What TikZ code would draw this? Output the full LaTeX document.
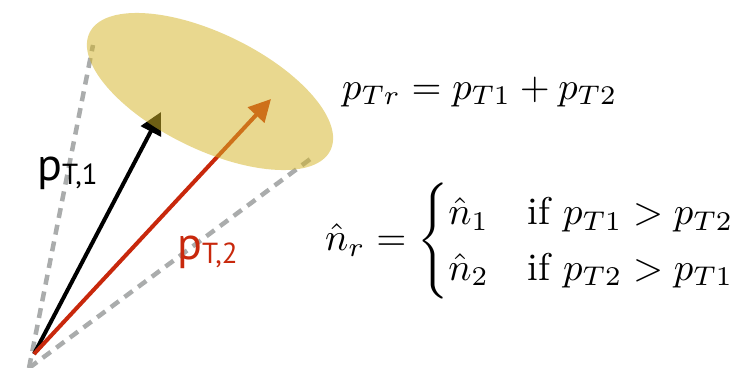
\documentclass[tikz,border=0pt]{standalone}
\usepackage{amsmath}
\usepackage{graphicx}
\usepackage{fontspec}
\newfontfamily\labelfont{PT Sans}
\usetikzlibrary{arrows.meta}
\definecolor{dashgray}{RGB}{170,172,172}
\definecolor{redvec}{RGB}{200,40,12}
\definecolor{cone}{RGB}{212,181,40}
\tikzset{
  conedash/.style={draw=dashgray,line width=4.5pt,dash pattern=on 10pt off 7pt},
  vec/.style={line width=4pt,-{Triangle[length=22pt,width=22pt]}},
  veclabel/.style={anchor=base west,inner sep=0pt,font=\labelfont\fontsize{46}{46}\selectfont},
  formula/.style={anchor=base west,inner sep=0pt}
}
\begin{document}
\begin{tikzpicture}[x=1pt,y=-1pt]
\useasboundingbox (0,0) rectangle (739,367);
\coordinate (apex) at (29,368);
\coordinate (c1) at (93,45);
\coordinate (c2) at (313,157);
\coordinate (O) at (34,354);
\coordinate (t1) at (161,112);
\coordinate (t2) at (271,99);
\draw[conedash] (apex) -- (c1);
\draw[conedash] (apex) -- (c2);
\draw[vec,black] (O) -- (t1);
\draw[vec,redvec] (O) -- (t2);
\fill[cone,opacity=0.52,rotate around={-26:(210,91.5)}] (210,91.5) ellipse [x radius=134, y radius=58];
\node[veclabel] (l1) at (37,180) {p\raisebox{-4pt}{\fontsize{29}{29}\selectfont T,1}};
\node[veclabel,text=redvec] (l2) at (177,259) {p\raisebox{-4pt}{\fontsize{29}{29}\selectfont T,2}};
\node[formula] (eq1) at (342,99) {\scalebox{3.85}{$p_{Tr} = p_{T1} + p_{T2}$}};
\node[formula,anchor=west] (eq2) at (325,241) {\scalebox{3.87}{$\hat{n}_r = \begin{cases} \hat{n}_1 & \text{if } p_{T1} > p_{T2}\\ \hat{n}_2 & \text{if } p_{T2} > p_{T1}\end{cases}$}};
\end{tikzpicture}
\end{document}
